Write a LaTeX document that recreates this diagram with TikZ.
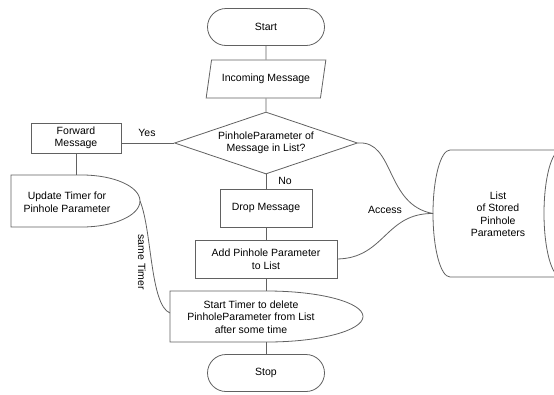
\documentclass[tikz,border=0pt]{standalone}
\usepackage{fontspec}
\setmainfont{Liberation Sans}
\usetikzlibrary{shapes.geometric,shapes.misc}
\begin{document}
\begin{tikzpicture}[x=1pt,y=-1pt,
  ln/.style={draw=black!62, line width=0.8pt},
  txt/.style={font=\fontsize{10.5}{12.5}\selectfont, align=center, inner sep=0pt, text=black},
  term/.style={ln, rounded rectangle, minimum width=117pt, minimum height=37pt, txt},
  proc/.style={ln, rectangle, txt},
  io/.style={ln, trapezium, trapezium left angle=66, trapezium right angle=114,
     trapezium stretches=true, minimum width=120pt, minimum height=38pt, txt},
  decision/.style={ln, diamond, aspect=3, minimum width=183pt, minimum height=62pt, txt}
]
\clip (0,0) rectangle (554,394);
\useasboundingbox (0,0) rectangle (554,394);

% main column
\node[term] (start) at (266,27) {Start};
\node[io] (inmsg) at (266,79) {Incoming Message};
\node[decision] (dec) at (266,143) {PinholeParameter of\\Message in List?};
\node[proc, minimum width=92pt, minimum height=38pt] (drop) at (266,208) {Drop Message};
\node[txt] (nolbl) at (285,181) {No};
\node[proc, minimum width=142pt, minimum height=38pt] (add) at (266,259) {Add Pinhole Parameter\\to List};
\node[txt] (stt) at (251,317) {Start Timer to delete\\PinholeParameter from List\\after some time};
\draw[ln] (267,291) -- (170,291) -- (170,342) -- (267,342)
   arc[start angle=-90, end angle=90, x radius=96pt, y radius=25.5pt] -- cycle;
\coordinate (sttTop) at (266,291);
\coordinate (sttBot) at (266,342);
\coordinate (sttW) at (170,313);
\node[term] (stop) at (266,373) {Stop};

% left branch
\node[proc, minimum width=90pt, minimum height=30pt] (fwd) at (76,138) {Forward\\Message};
\node[txt] (yeslbl) at (147,133) {Yes};
\node[txt] (upd) at (67,202) {Update Timer for\\Pinhole Parameter};
\draw[ln] (82,175) -- (11,175) -- (11,227) -- (82,227)
   arc[start angle=-90, end angle=90, x radius=58pt, y radius=26pt] -- cycle;
\coordinate (updTop) at (76,175);
\coordinate (updE) at (140,201);
\node[txt, rotate=-90] (samelbl) at (142,262) {same Timer};

% storage
\draw[ln] (561,150) -- (450,150)
   arc[start angle=90, end angle=270, x radius=17pt, y radius=63.5pt] -- (561,277);
\draw[ln] (561,213.5) ellipse [x radius=17pt, y radius=63.5pt];
\coordinate (cylW) at (433,213.5);
\node[txt] (lst) at (498,214) {List\\of Stored\\Pinhole\\Parameters};
\node[txt] (acclbl) at (385,210) {Access};

% connectors
\draw[ln] (start) -- (inmsg);
\draw[ln] (inmsg) -- (dec);
\draw[ln] (dec) -- (drop);
\draw[ln] (drop) -- (add);
\draw[ln] (add.south) -- (sttTop);
\draw[ln] (sttBot) -- (stop.north);
\draw[ln] (dec.west) -- (dec.west -| fwd.east);
\draw[ln] (fwd.south) -- (updTop);
\draw[ln] (updE) .. controls (152,230) and (150,305) .. (sttW);
\draw[ln] (dec.east) .. controls (395,140) and (385,205) .. (cylW);
\draw[ln] (add.east) .. controls (385,258) and (385,213) .. (cylW);
\end{tikzpicture}
\end{document}
